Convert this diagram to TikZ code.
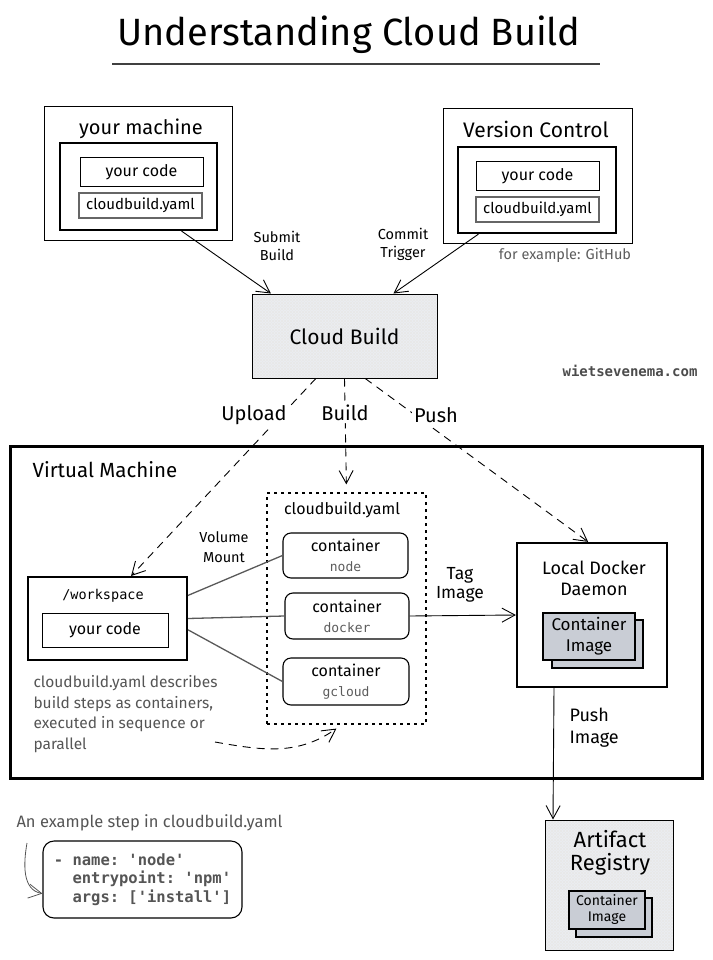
\documentclass[tikz,border=0pt]{standalone}
\usepackage{fontspec}
\setmainfont{Fira Sans}
\setmonofont{DejaVu Sans Mono}
\usetikzlibrary{arrows.meta,patterns}

\definecolor{hatchbg}{HTML}{ECEEF2}
\definecolor{imagebg}{HTML}{C9CDD5}
\definecolor{notegray}{HTML}{555555}
\definecolor{codegray}{HTML}{5C5C5C}
\newcommand{\fsz}[2]{\fontsize{#1}{#2}\selectfont}

\begin{document}
\begin{tikzpicture}[
    x=1pt, y=-1pt,
    arrowline/.style={black, line width=0.9pt, -{Straight Barb[length=13pt,width=14pt]}},
    dasharrow/.style={arrowline, dash pattern=on 8pt off 6pt},
    link/.style={black!65, line width=1.3pt},
    sz/.style 2 args={minimum width=#1pt, minimum height=#2pt},
    hand/.style 2 args={font=\fsz{#1}{#2}, align=center},
    box/.style={draw, rectangle, line width=1pt, inner sep=0pt},
    thickbox/.style={box, line width=2.2pt},
    filebox/.style={box, draw=black!60, line width=1.4pt},
    hatched/.style={box, preaction={fill=hatchbg},
        preaction={pattern=north east lines, pattern color=black!9},
        preaction={pattern=north west lines, pattern color=black!9}},
    stepbox/.style={box, rounded corners=8pt, line width=1.1pt},
    imagebox/.style={box, fill=imagebg, line width=1.1pt},
    cut/.style={fill=white, inner sep=2pt}
    ]
    \useasboundingbox (0,0) rectangle (712,960);

    \node[hand={38}{44}] (title) at (349,35) {Understanding Cloud Build};
    \draw[black!75, line width=1.5pt] (112,64) -- (600,64);

    % your machine
    \node[box, sz={188}{133}] (machine) at (138,173.5) {};
    \node[hand={20}{24}] (machinelbl) at (141,129) {your machine};
    \node[thickbox, sz={157}{87}] (machineinner) at (138.5,186.5) {};
    \node[box, sz={123}{28}, hand={16}{19}] (mcode) at (141.5,172) {your code};
    \node[filebox, sz={123}{25}, hand={15}{18}] (myaml) at (140.5,205.5) {cloudbuild.yaml};

    % version control
    \node[box, sz={189}{134}] (vcs) at (537.5,176) {};
    \node[hand={21}{25}] (vcslbl) at (536,129) {Version Control};
    \node[thickbox, sz={158}{86}] (vcsinner) at (537,190) {};
    \node[box, sz={123}{28}, hand={16}{19}] (vcode) at (537.5,176) {your code};
    \node[filebox, sz={123}{25}, hand={15}{18}] (vyaml) at (537.5,209.5) {cloudbuild.yaml};
    \node[hand={14.5}{17}, text=codegray] (github) at (565,255) {for example: GitHub};

    \node[hatched, sz={185}{84}, hand={21}{25}] (cloudbuild) at (344.5,336) {Cloud Build};
    \node[font=\ttfamily\bfseries\fsz{14}{17}, text=black!70] (site) at (630,371) {wietsevenema.com};

    \draw[arrowline] (machineinner.-46) -- (cloudbuild.150);
    \draw[arrowline] (vcsinner.217) -- (cloudbuild.41);
    \node[hand={14.5}{18}] (submitlbl) at (277,246) {Submit\\Build};
    \node[hand={14.5}{18}] (commitlbl) at (403,244) {Commit\\Trigger};

    % virtual machine
    \node[box, sz={692}{332}, line width=3pt] (vm) at (356,612) {};
    \node[hand={20.5}{24}] (vmlbl) at (105,470) {Virtual Machine};

    \node[thickbox, sz={159}{83}, line width=2pt] (workspace) at (107.5,618.5) {};
    \node[font=\ttfamily\fsz{13.5}{16}] (wslbl) at (103,596) {/workspace};
    \node[box, sz={126}{34}, hand={16}{19}] (wscode) at (105,630) {your code};

    \node[box, dash pattern=on 3pt off 4pt, line width=1.2pt, sz={159}{231}] (steps) at (346.5,608.5) {};
    \node[hand={16}{19}] (stepslbl) at (342,510) {cloudbuild.yaml};
    \node[stepbox, sz={125}{45}, hand={16}{20}] (node) at (345.5,555.5) {container\\{\ttfamily\color{codegray}\fsz{13}{15}node}};
    \node[stepbox, sz={124}{46}, hand={16}{20}] (docker) at (347,616) {container\\{\ttfamily\color{codegray}\fsz{13}{15}docker}};
    \node[stepbox, sz={126}{47}, hand={16}{20}] (gcloud) at (346,681.5) {container\\{\ttfamily\color{codegray}\fsz{13}{15}gcloud}};

    \draw[link] (workspace.16) -- (node.west);
    \draw[link] (workspace.east) -- (docker.west);
    \draw[link] (workspace.-8) -- (gcloud.west);
    \node[hand={14.5}{20}] (mountlbl) at (224,547) {Volume\\Mount};

    \node[hand={15.5}{20.5}, align=left, text=notegray, anchor=north west] (desc) at (30,672) {cloudbuild.yaml describes\\build steps as containers,\\executed in sequence or\\parallel};
    \coordinate (descend) at (215,742);
    \draw[dasharrow] (descend) to[out=-10,in=215] ([yshift=-4pt]steps.-95);

    \node[thickbox, sz={150}{144}] (daemon) at (592,615) {};
    \node[hand={18}{21}] (daemonlbl) at (594,578) {Local Docker\\Daemon};
    \node[imagebox, sz={91}{48}] (dimgback) at (597.5,644) {};
    \node[imagebox, sz={92}{47}, hand={17}{21}] (dimg) at (589,636.5) {Container\\Image};

    \draw[arrowline] (docker.east) -- (daemon.west);
    \node[hand={17.5}{19}] (taglbl) at (460,585) {Tag\\Image};

    % dashed from cloud build
    \draw[dasharrow] (cloudbuild.-124) -- (workspace.61);
    \draw[dasharrow, shorten >=8pt] (cloudbuild.south) -- (steps.north);
    \draw[dasharrow] (cloudbuild.-64) -- (daemon.93);
    \node[cut, hand={20}{22}] (uploadlbl) at (254,415) {Upload};
    \node[cut, hand={20}{22}] (buildlbl) at (345,413) {Build};
    \node[cut, hand={20}{22}] (pushlbl) at (436,415) {Push};

    % artifact registry
    \node[hatched, sz={128}{130}] (artifact) at (609,885) {};
    \node[hand={22}{23}] (artifactlbl) at (610,853) {Artifact\\Registry};
    \node[imagebox, sz={76}{39}] (aimgback) at (614,917.5) {};
    \node[imagebox, sz={76}{38}, hand={14}{16}] (aimg) at (607,910) {Container\\Image};

    \draw[arrowline] ([xshift=-38pt]daemon.south) -- ([xshift=-56pt]artifact.north);
    \node[hand={18}{22}, align=left, anchor=west] (pushimglbl) at (566,728) {Push\\Image};

    % example step
    \node[hand={16.5}{18}, text=notegray, anchor=west] (exlbl) at (13,823) {An example step in cloudbuild.yaml};
    \node[stepbox, rounded corners=11pt, sz={199}{77}, align=left, font=\ttfamily\bfseries\fsz{15.5}{18.5}, text=notegray] (exbox) at (142.5,879.5) {- name: 'node'\\\phantom{- }entrypoint: 'npm'\\\phantom{- }args: ['install']};
    \coordinate (exstart) at (27,843);
    \draw[arrowline, notegray, line width=0.8pt] (exstart) to[out=-100,in=170] (exbox.188);

\end{tikzpicture}
\end{document}
